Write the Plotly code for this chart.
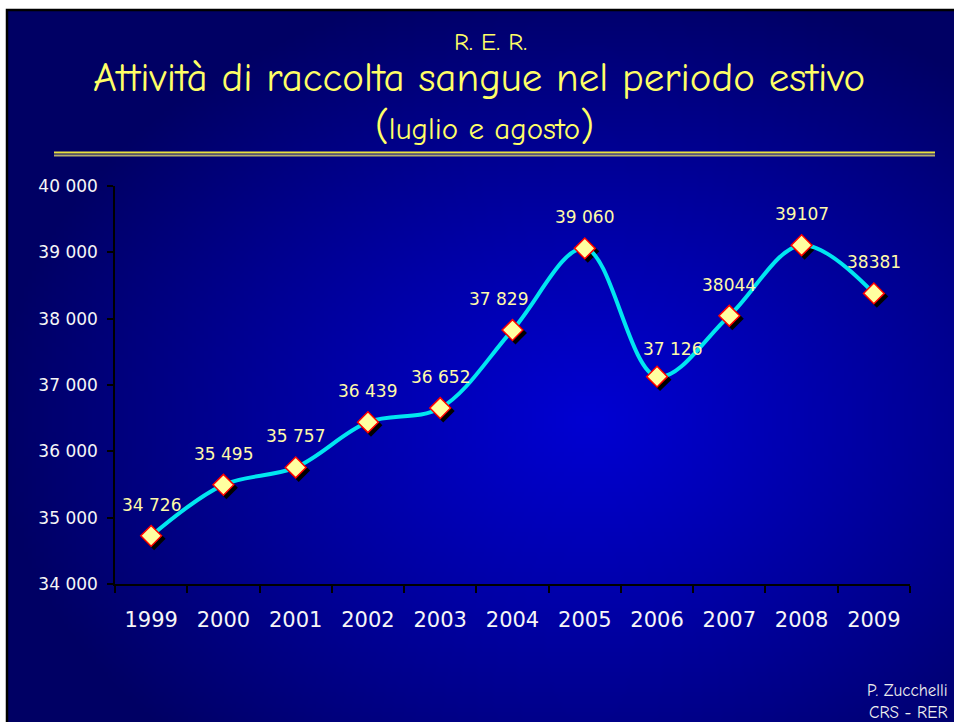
import base64
import struct
import zlib

import numpy as np
import plotly.graph_objects as go

# ---------------- data ----------------
years = ["1999", "2000", "2001", "2002", "2003", "2004", "2005", "2006", "2007", "2008", "2009"]
donations = [34726, 35495, 35757, 36439, 36652, 37829, 39060, 37126, 38044, 39107, 38381]
value_labels = ["34 726", "35 495", "35 757", "36 439", "36 652", "37 829",
                "39 060", "37 126", "38044", "39107", "38381"]
y_ticks = [34000, 35000, 36000, 37000, 38000, 39000, 40000]

# label nudges (style only)
label_xshift = [0, 0, 0, 0, 0, -14, 0, 15, 0, 0, 0]
label_yshift = [31, 31, 31, 31, 31, 31, 31, 28, 31, 31, 31]

# ---------------- geometry helpers ----------------
W, H = 954, 722
L, R, T, B = 115, 41, 186, 135           # plot area = x 115..913, y 186..587
PW, PH = W - L - R, H - T - B
SH = 3                                     # shadow offset in px


def fx(px):
    return (px - L) / PW


def fy(py):
    return (H - B - py) / PH


# ---------------- background gradient image ----------------
def png_data_uri(arr):
    h, w, _ = arr.shape
    raw = b"".join(b"\x00" + arr[r].tobytes() for r in range(h))

    def chunk(tag, data):
        c = struct.pack(">I", len(data)) + tag + data
        return c + struct.pack(">I", zlib.crc32(tag + data) & 0xFFFFFFFF)

    png = (b"\x89PNG\r\n\x1a\n"
           + chunk(b"IHDR", struct.pack(">IIBBBBB", w, h, 8, 2, 0, 0, 0))
           + chunk(b"IDAT", zlib.compress(raw, 9))
           + chunk(b"IEND", b""))
    return "data:image/png;base64," + base64.b64encode(png).decode()


sx0, sy0, sx1, sy1 = 6, 9, 954, 722
gw, gh = 237, 178
xs = np.linspace(sx0, sx1, gw)
ys = np.linspace(sy0, sy1, gh)
X, Y = np.meshgrid(xs, ys)
d = np.sqrt(((X - 590) / 600.0) ** 2 + ((Y - 420) / 450.0) ** 2)
d = np.clip(d, 0, 1)
blue = 210 - (210 - 100) * d ** 1.1
img = np.zeros((gh, gw, 3), dtype=np.uint8)
img[..., 2] = blue.astype(np.uint8)
bg_uri = png_data_uri(img)

# ---------------- figure ----------------
fig = go.Figure()

# shadow of the markers (subplot drawn first, slightly offset)
fig.add_trace(go.Scatter(
    x=years, y=donations, mode="markers",
    marker=dict(symbol="diamond", size=16, color="black",
                line=dict(color="black", width=1.5)),
    xaxis="x", yaxis="y", hoverinfo="skip", showlegend=False,
))

# main smoothed line with markers
fig.add_trace(go.Scatter(
    x=years, y=donations, mode="lines+markers",
    line=dict(color="#00e6f0", width=4, shape="spline", smoothing=1),
    marker=dict(symbol="diamond", size=16, color="#ffffa0",
                line=dict(color="#ff0000", width=1.5)),
    xaxis="x2", yaxis="y2", hoverinfo="skip", showlegend=False,
))

tick_font = dict(family="DejaVu Sans, Verdana, sans-serif", color="#f6f6f6")

fig.update_layout(
    width=W, height=H,
    margin=dict(l=L, r=R, t=T, b=B, pad=0),
    paper_bgcolor="white",
    plot_bgcolor="rgba(0,0,0,0)",
    separators=", ",
    xaxis=dict(type="category", categoryorder="array", categoryarray=years,
               range=[-0.5, len(years) - 0.5], domain=[SH / PW, 1],
               anchor="y", visible=False, fixedrange=True),
    yaxis=dict(range=[y_ticks[0], y_ticks[-1]], domain=[0, 1 - SH / PH],
               anchor="x", visible=False, fixedrange=True),
    xaxis2=dict(type="category", categoryorder="array", categoryarray=years,
                range=[-0.5, len(years) - 0.5], domain=[0, 1 - SH / PW],
                anchor="y2", showline=True, linecolor="black", linewidth=1.5,
                ticks="outside", tickson="boundaries", ticklen=7,
                tickcolor="black", tickwidth=1.5,
                tickfont=dict(size=21, **tick_font), ticklabelstandoff=16,
                showgrid=False, zeroline=False, fixedrange=True),
    yaxis2=dict(range=[y_ticks[0], y_ticks[-1]], domain=[SH / PH, 1],
                anchor="x2", tickvals=y_ticks, tickformat=",d",
                showline=True, linecolor="black", linewidth=1.5,
                ticks="outside", ticklen=6, tickcolor="black", tickwidth=1.5,
                tickfont=dict(size=17, **tick_font), ticklabelstandoff=6,
                showgrid=False, zeroline=False, fixedrange=True),
)

fig.add_layout_image(dict(
    source=bg_uri, xref="paper", yref="paper",
    x=fx(sx0), y=fy(sy0), sizex=(sx1 - sx0) / PW, sizey=(sy1 - sy0) / PH,
    xanchor="left", yanchor="top", sizing="stretch", layer="below",
))

# slide border and double rule under the title
fig.add_shape(type="rect", xref="paper", yref="paper",
              x0=fx(sx0 + 1), x1=fx(W + 5), y0=fy(sy0 + 1), y1=fy(H + 5),
              line=dict(color="black", width=2.5), fillcolor="rgba(0,0,0,0)")
fig.add_shape(type="line", xref="paper", yref="paper",
              x0=fx(54), x1=fx(935), y0=fy(152.6), y1=fy(152.6),
              line=dict(color="#e8e040", width=2))
fig.add_shape(type="line", xref="paper", yref="paper",
              x0=fx(54), x1=fx(935), y0=fy(155.4), y1=fy(155.4),
              line=dict(color="#b4ac6c", width=2))

title_font = "Comic Sans MS, Comic Neue, Open Sans, sans-serif"
yellow = "#ffff66"
fig.add_annotation(text="R. E. R.", xref="paper", yref="paper",
                   x=fx(490), y=fy(41), xanchor="center", yanchor="middle",
                   showarrow=False, font=dict(family=title_font, size=25, color=yellow))
fig.add_annotation(text="Attività di raccolta sangue nel periodo estivo",
                   xref="paper", yref="paper", x=fx(479), y=fy(78),
                   xanchor="center", yanchor="middle", showarrow=False,
                   font=dict(family=title_font, size=41, color=yellow))
fig.add_annotation(text="<span style='font-size:40px'>(</span>luglio e agosto"
                        "<span style='font-size:40px'>)</span>",
                   xref="paper", yref="paper", x=fx(484), y=fy(126),
                   xanchor="center", yanchor="middle", showarrow=False,
                   font=dict(family=title_font, size=31, color=yellow))
fig.add_annotation(text="P. Zucchelli<br>CRS - RER", xref="paper", yref="paper",
                   x=fx(950), y=fy(701), xanchor="right", yanchor="middle",
                   align="right", showarrow=False,
                   font=dict(family=title_font, size=17, color="#eeeeee"))

# data labels (x given as category index on the category axis)
for i, (v, lab, dx, dy) in enumerate(zip(donations, value_labels, label_xshift, label_yshift)):
    fig.add_annotation(x=i, y=v, xref="x2", yref="y2", text=lab,
                       showarrow=False, xshift=dx, yshift=dy,
                       font=dict(family="DejaVu Sans, Verdana, sans-serif",
                                 size=17, color="#fffaa8"))

fig.write_html("out.html", config={"displayModeBar": False},
               post_script="document.body.style.margin='0';")
